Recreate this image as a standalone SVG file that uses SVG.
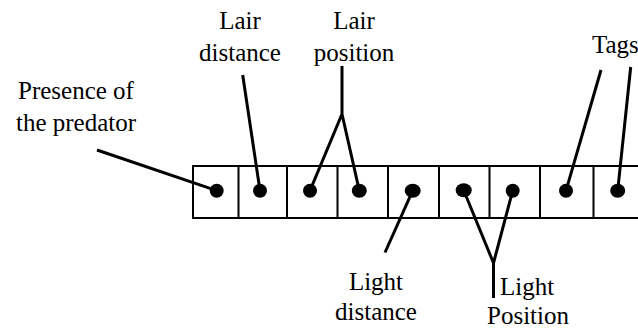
<svg xmlns="http://www.w3.org/2000/svg" width="638" height="328" viewBox="0 0 638 328">
<style>
.box{fill:#fff;stroke:#000;stroke-width:2}
.ln{stroke:#000;stroke-width:3;fill:none}
.dot{fill:#000}
.t{font-family:Liberation Serif, DejaVu Serif, Times New Roman, Times, serif;font-size:25px;fill:#000}
</style>
<rect width="638" height="328" fill="#fff"/>
<g id="strip">
<rect class="box" x="193" y="166" width="460" height="52"/>
<path class="ln" style="stroke-width:2" d="M238.5 166V218M287 166V218M337.5 166V218M388 166V218M439 166V218M489.5 166V218M540 166V218M593.5 166V218"/>
</g>
<g id="dots">
<ellipse class="dot" cx="216.7" cy="190.7" rx="7" ry="7"/>
<ellipse class="dot" cx="260" cy="190.7" rx="7" ry="7"/>
<ellipse class="dot" cx="310" cy="190.7" rx="7" ry="7"/>
<ellipse class="dot" cx="359.3" cy="190.7" rx="7.5" ry="7"/>
<ellipse class="dot" cx="412.7" cy="190.7" rx="8" ry="7"/>
<ellipse class="dot" cx="463.7" cy="190.3" rx="8" ry="7"/>
<ellipse class="dot" cx="512.7" cy="190.7" rx="7" ry="7"/>
<ellipse class="dot" cx="566" cy="190.7" rx="7" ry="7"/>
<ellipse class="dot" cx="617.7" cy="190.7" rx="7.5" ry="7"/>
</g>
<g id="connectors">
<path class="ln" d="M97 150L216.7 190.7"/>
<path class="ln" d="M242.7 75L260 190.7"/>
<path class="ln" d="M342 66V114M342 114L310 190.7M342 114L359.3 190.7"/>
<path class="ln" d="M385 252.5L412.7 190.7"/>
<path class="ln" d="M463.7 190.3L493.5 263M512.7 190.7L493.5 263M493.5 263V298"/>
<path class="ln" d="M601 70L566 190.7"/>
<path class="ln" d="M630.7 67L617.7 190.7"/>
</g>
<g id="presence" class="t" text-anchor="middle"><text x="76" y="99">Presence of</text><text x="76" y="131">the predator</text></g>
<g id="lair-distance" class="t" text-anchor="middle"><text x="240" y="29">Lair</text><text x="240" y="61">distance</text></g>
<g id="lair-position" class="t" text-anchor="middle"><text x="354" y="29">Lair</text><text x="354" y="61">position</text></g>
<g id="tags" class="t"><text x="592" y="53">Tags</text></g>
<g id="light-distance" class="t" text-anchor="middle"><text x="376" y="290">Light</text><text x="376" y="320">distance</text></g>
<g id="light-position" class="t"><text x="500" y="295">Light</text><text x="528" y="324" text-anchor="middle">Position</text></g>
</svg>
